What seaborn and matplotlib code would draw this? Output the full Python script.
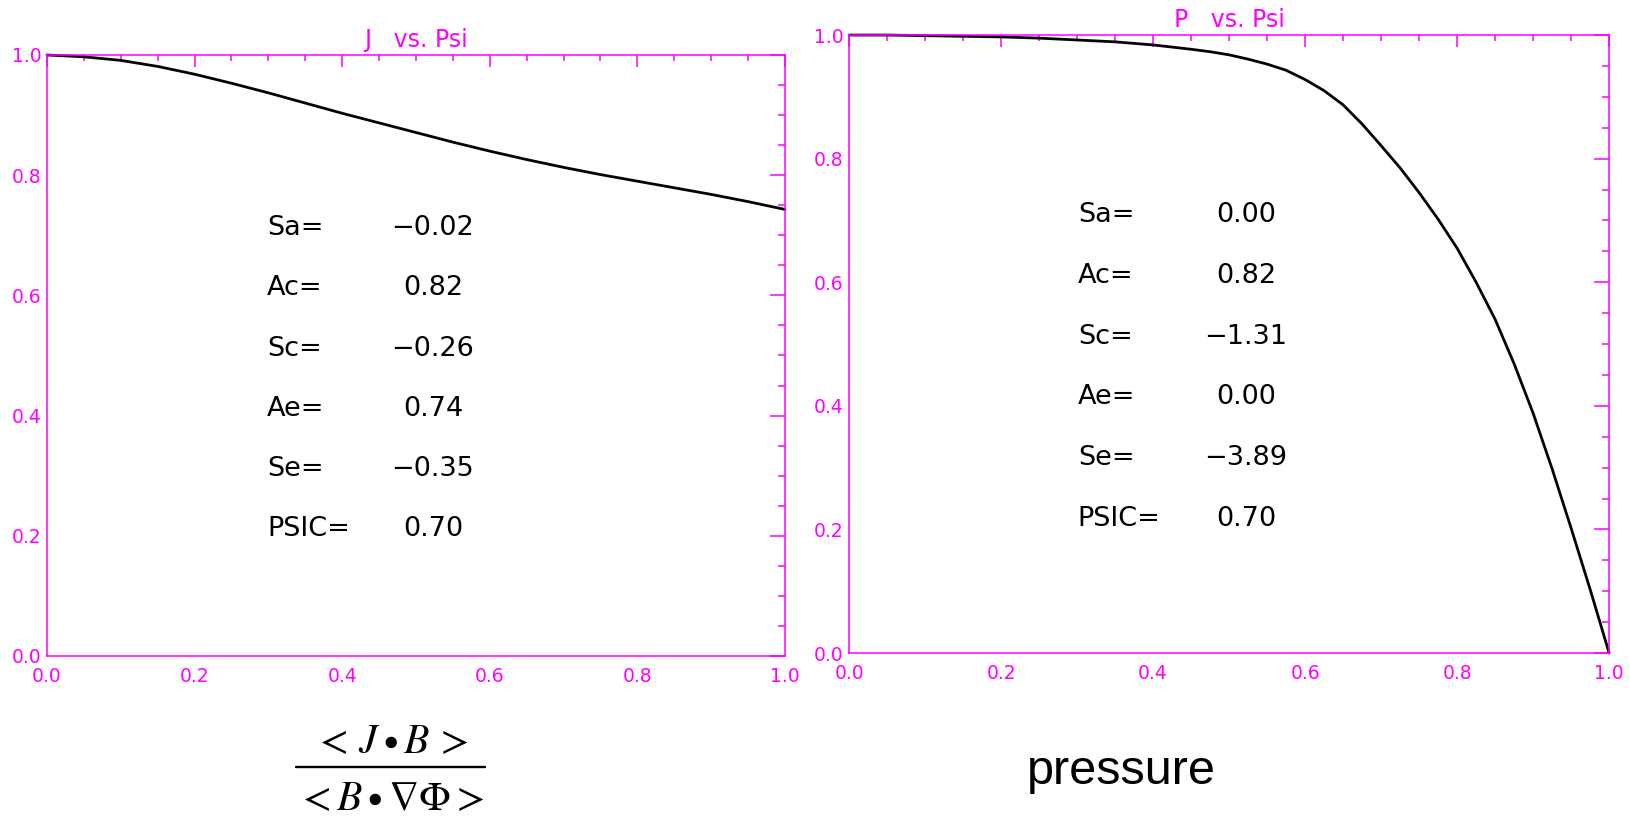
import matplotlib
matplotlib.use("Agg")
import matplotlib.pyplot as plt
from matplotlib.lines import Line2D
from matplotlib.ticker import MultipleLocator, FormatStrFormatter
import seaborn as sns

# J vs Psi profile
psi_j = [0.0, 0.05, 0.1, 0.15, 0.2, 0.25, 0.3, 0.35, 0.4, 0.45, 0.5,
         0.55, 0.6, 0.65, 0.7, 0.75, 0.8, 0.85, 0.9, 0.95, 1.0]
j_vals = [1.000, 0.997, 0.991, 0.981, 0.968, 0.953, 0.937, 0.920, 0.903, 0.887, 0.871,
          0.855, 0.840, 0.826, 0.813, 0.801, 0.790, 0.779, 0.768, 0.756, 0.743]

# P vs Psi profile
psi_p = [0.0, 0.05, 0.1, 0.15, 0.2, 0.25, 0.3, 0.35, 0.4, 0.45, 0.475, 0.5,
         0.525, 0.55, 0.575, 0.6, 0.625, 0.65, 0.675, 0.7, 0.725, 0.75,
         0.775, 0.8, 0.825, 0.85, 0.875, 0.9, 0.925, 0.95, 0.975, 1.0]
p_vals = [1.000, 1.000, 0.999, 0.998, 0.997, 0.995, 0.992, 0.989, 0.984, 0.977, 0.973, 0.968,
          0.961, 0.953, 0.943, 0.928, 0.910, 0.887, 0.856, 0.821, 0.785, 0.745,
          0.702, 0.655, 0.600, 0.540, 0.468, 0.388, 0.298, 0.202, 0.103, 0.000]

param_names = ["Sa=", "Ac=", "Sc=", "Ae=", "Se=", "PSIC="]
j_params = [-0.02, 0.82, -0.26, 0.74, -0.35, 0.70]
p_params = [0.00, 0.82, -1.31, 0.00, -3.89, 0.70]

MAGENTA = "#ff00ff"

sns.set_style("white")
plt.rcParams["font.family"] = ["DejaVu Sans"]
plt.rcParams["mathtext.fontset"] = "stix"
plt.rcParams["text.color"] = "black"


def style_axes(ax, title):
    ax.set_xlim(0, 1)
    ax.set_ylim(0, 1)
    for s in ax.spines.values():
        s.set_visible(True)
        s.set_color(MAGENTA)
        s.set_linewidth(1.1)
    ax.xaxis.set_major_locator(MultipleLocator(0.2))
    ax.xaxis.set_minor_locator(MultipleLocator(0.05))
    ax.yaxis.set_major_locator(MultipleLocator(0.2))
    ax.yaxis.set_minor_locator(MultipleLocator(0.05))
    ax.xaxis.set_major_formatter(FormatStrFormatter("%.1f"))
    ax.yaxis.set_major_formatter(FormatStrFormatter("%.1f"))
    ax.tick_params(which="both", direction="in", colors=MAGENTA,
                   top=True, right=True, labelsize=13.5, width=1.1)
    ax.tick_params(axis="x", which="major", length=8.5, pad=8)
    ax.tick_params(axis="x", which="minor", length=4.2)
    ax.tick_params(axis="y", which="major", length=10.5, pad=4)
    ax.tick_params(axis="y", which="minor", length=5)
    ax.set_xlabel("")
    ax.set_ylabel("")
    ax.set_title(title, color=MAGENTA, fontsize=17, pad=6)


def add_params(ax, values, x_name, x_val, y0, step):
    for i, (name, v) in enumerate(zip(param_names, values)):
        y = y0 - step * i
        ax.text(x_name, y, name, transform=ax.transAxes, fontsize=19.5,
                ha="left", va="center", color="black")
        ax.text(x_val, y, f"{v:.2f}".replace("-", "\u2212"), transform=ax.transAxes,
                fontsize=19.5, ha="center", va="center", color="black")


fig = plt.figure(figsize=(16.3, 8.17), dpi=100)
ax_j = fig.add_axes([0.0288, 0.1971, 0.4528, 0.7356])
ax_p = fig.add_axes([0.5209, 0.2007, 0.4663, 0.7564])

sns.lineplot(x=psi_j, y=j_vals, ax=ax_j, color="#0a000a", lw=2, clip_on=False)
sns.lineplot(x=psi_p, y=p_vals, ax=ax_p, color="#0a000a", lw=2, clip_on=False)

style_axes(ax_j, "J   vs. Psi")
style_axes(ax_p, "P   vs. Psi")

add_params(ax_j, j_params, 0.298, 0.523, 0.712, 0.1003)
add_params(ax_p, p_params, 0.301, 0.522, 0.709, 0.0985)

# axis captions under each panel
fig.text(390 / 1630, 1 - 741 / 817, r"$<\,J\bullet B\,>$", fontsize=30,
         ha="center", va="center", color="black")
fig.add_artist(Line2D([296 / 1630, 485 / 1630], [1 - 767 / 817] * 2,
                      color="black", lw=1.7, transform=fig.transFigure))
fig.text(390 / 1630, 1 - 798 / 817, r"$<B\bullet\nabla\Phi>$", fontsize=30,
         ha="center", va="center", color="black")

fig.text(1121 / 1630, 1 - 784 / 817, "pressure", fontsize=35, color="black",
         family=["Liberation Sans", "DejaVu Sans"], ha="center", va="baseline")

fig.savefig("out.png", dpi=100)
plt.close(fig)
